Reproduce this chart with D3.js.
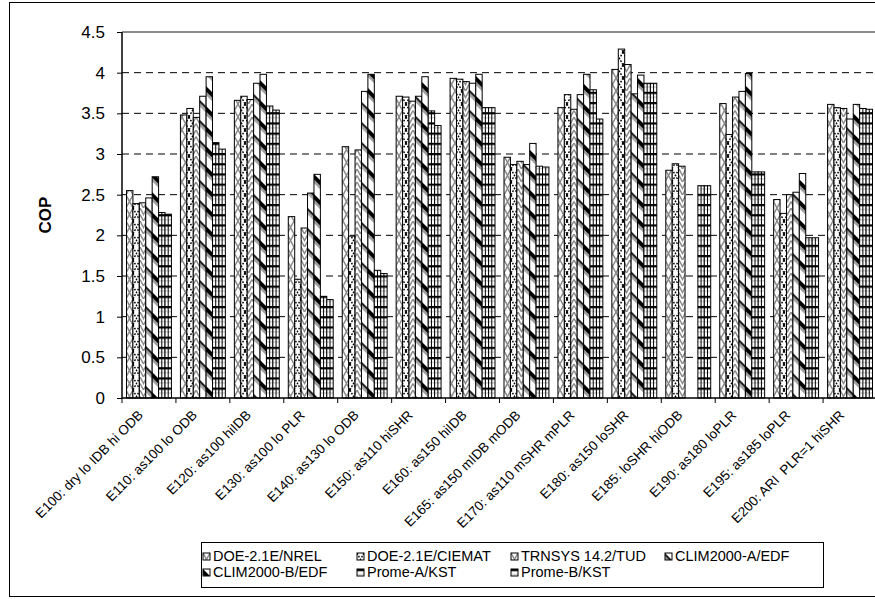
<!DOCTYPE html>
<html><head><meta charset="utf-8">
<script src="https://cdn.jsdelivr.net/npm/d3@7"></script>
<style>body{margin:0;background:#fff} text{font-family:Arial,"Liberation Sans",sans-serif}</style>
</head><body>
<svg id="c" width="875" height="599"></svg>
<script>
const categories = ["E100: dry lo IDB hi ODB","E110: as100 lo ODB","E120: as100 hiIDB","E130: as100 lo PLR","E140: as130 lo ODB","E150: as110 hiSHR","E160: as150 hiIDB","E165: as150 mIDB mODB","E170: as110 mSHR mPLR","E180: as150 loSHR","E185: loSHR hiODB","E190: as180 loPLR","E195: as185 loPLR","E200: ARI  PLR=1 hiSHR"];
const seriesNames = ["DOE-2.1E/NREL","DOE-2.1E/CIEMAT","TRNSYS 14.2/TUD","CLIM2000-A/EDF","CLIM2000-B/EDF","Prome-A/KST","Prome-B/KST"];
const doeNrel   = [2.55,3.48,3.66,2.23,3.09,3.71,3.93,2.96,3.57,4.04,2.80,3.62,2.44,3.61];
const doeCiemat = [2.39,3.56,3.71,1.46,1.99,3.70,3.92,2.87,3.73,4.29,2.88,3.24,2.27,3.57];
const trnsys    = [2.40,3.45,3.67,2.09,3.05,3.65,3.89,2.91,3.55,4.10,2.85,3.70,2.50,3.56];
const climA     = [2.46,3.71,3.87,2.52,3.77,3.71,3.87,2.87,3.73,3.74,null,3.77,2.53,3.43];
const climB     = [2.72,3.95,3.98,2.75,3.98,3.95,3.98,3.13,3.98,3.97,null,3.99,2.76,3.61];
const promeA    = [2.28,3.14,3.59,1.25,1.57,3.53,3.57,2.85,3.79,3.87,2.61,2.78,1.97,3.56];
const promeB    = [2.26,3.06,3.54,1.21,1.53,3.35,3.57,2.84,3.43,3.87,2.61,2.78,1.97,3.55];
const yTicks = [0,0.5,1,1.5,2,2.5,3,3.5,4,4.5];
const yTickLabels = ["0","0.5","1","1.5","2","2.5","3","3.5","4","4.5"];
const yTitle = "COP";

const seriesValues = [doeNrel,doeCiemat,trnsys,climA,climB,promeA,promeB];
const svg = d3.select("#c");
svg.append("rect").attr("width",875).attr("height",599).attr("fill","#fff");

const defs = svg.append("defs");
function pat(id,w,h,build,transform){
  const p = defs.append("pattern").attr("id",id).attr("patternUnits","userSpaceOnUse")
    .attr("width",w).attr("height",h);
  if(transform) p.attr("patternTransform",transform);
  p.append("rect").attr("width",w).attr("height",h).attr("fill","#fff");
  build(p);
}
pat("p0",7,13,p=>{p.append("path").attr("d","M0,0L7,13M7,0L0,13").attr("stroke","#8a8a8a").attr("stroke-width",1.5).attr("fill","none");});
pat("p1",7,13,p=>{p.append("path").attr("d","M0,0L7,13M7,0L0,13").attr("stroke","#000").attr("stroke-width",1.4).attr("stroke-dasharray","1.8,1.4").attr("fill","none");});
pat("p2",7,13,p=>{p.append("path").attr("d","M0,0L3.5,6.5L7,0M0,6.5L3.5,13L7,6.5").attr("stroke","#8a8a8a").attr("stroke-width",1.5).attr("fill","none");});
pat("p3",14.14,14.14,p=>{
  p.append("rect").attr("y",0).attr("width",14.14).attr("height",2.4).attr("fill","#222");
  p.append("rect").attr("y",2.4).attr("width",14.14).attr("height",2.4).attr("fill","#aaa");
},"rotate(45)");
pat("p4",14.14,14.14,p=>{
  p.append("rect").attr("y",0).attr("width",14.14).attr("height",3.8).attr("fill","#000");
  p.append("rect").attr("y",3.8).attr("width",14.14).attr("height",2.6).attr("fill","#999");
},"rotate(45)");
[5,6].forEach(k=>pat("p"+k,10,10.2,p=>{
  p.append("rect").attr("y",0).attr("width",10).attr("height",2.2).attr("fill","#000");
  p.append("rect").attr("y",5).attr("width",10).attr("height",1).attr("fill","#bbb");
}));

svg.append("rect").attr("x",9.5).attr("y",2.5).attr("width",900).attr("height",594)
  .attr("fill","none").attr("stroke","#000").attr("stroke-width",1);

const x = d3.scaleBand().domain(categories).range([122,877]).paddingInner(0.167).paddingOuter(0.0835);
const xs = d3.scaleBand().domain(seriesNames).range([0,x.bandwidth()]);
const y = d3.scaleLinear().domain([0,4.5]).range([398,32]);

svg.append("g").selectAll("line").data(yTicks.filter(v=>v>0 && v<4.5)).join("line")
  .attr("x1",122).attr("x2",877).attr("y1",d=>y(d)).attr("y2",d=>y(d))
  .attr("stroke","#000").attr("stroke-width",1).attr("stroke-dasharray","7,5");
svg.append("line").attr("x1",122).attr("x2",877).attr("y1",y(4.5)).attr("y2",y(4.5))
  .attr("stroke","#8c8c8c").attr("stroke-width",2);

const rows = [];
categories.forEach((c,i)=>seriesNames.forEach((s,k)=>{
  const v = seriesValues[k][i];
  if(v!=null) rows.push({c,s,k,v});
}));
const bars = svg.append("g");
bars.selectAll("rect").data(rows).join("rect")
  .attr("x",d=>x(d.c)+xs(d.s)).attr("width",xs.bandwidth())
  .attr("y",d=>y(d.v)).attr("height",d=>y(0)-y(d.v))
  .attr("fill",d=>`url(#p${d.k})`).attr("stroke","#000").attr("stroke-width",1);
bars.selectAll("line.mid").data(rows.filter(d=>d.k>=5)).join("line").attr("class","mid")
  .attr("x1",d=>x(d.c)+xs(d.s)+xs.bandwidth()/2).attr("x2",d=>x(d.c)+xs(d.s)+xs.bandwidth()/2)
  .attr("y1",d=>y(d.v)).attr("y2",y(0)).attr("stroke","#000").attr("stroke-width",1);

const yAxis = svg.append("g").attr("transform","translate(122,0)")
  .call(d3.axisLeft(y).tickValues(yTicks).tickFormat((d,i)=>yTickLabels[i]).tickSize(5).tickPadding(12));
yAxis.select(".domain").attr("stroke","#000").attr("stroke-width",1.5).attr("d","M0,32V398");
yAxis.selectAll("text").attr("font-size",17).attr("fill","#000").style("font-family","Arial");

const xAxis = svg.append("g").attr("transform","translate(0,398)");
xAxis.append("line").attr("x1",122).attr("x2",877).attr("stroke","#000").attr("stroke-width",1.5);
const bounds = categories.map(c=>x(c)-x.step()*x.paddingInner()/2).concat([877]);
xAxis.selectAll("line.t").data(bounds).join("line").attr("class","t")
  .attr("x1",d=>d).attr("x2",d=>d).attr("y1",0).attr("y2",5).attr("stroke","#000");
svg.append("g").selectAll("text").data(categories).join("text")
  .attr("transform",d=>`translate(${x(d)+x.bandwidth()/2-5},416) rotate(-45)`)
  .attr("text-anchor","end").attr("font-size",13.5).attr("fill","#000")
  .style("white-space","pre").text(d=>d);

svg.append("text").attr("transform","translate(51,215) rotate(-90)").attr("text-anchor","middle")
  .attr("font-size",17).attr("font-weight","bold").text(yTitle);

const lg = svg.append("g");
lg.append("rect").attr("x",201.5).attr("y",542.5).attr("width",622).attr("height",45)
  .attr("fill","#fff").attr("stroke","#000");
const colX = [203,357,511,665];
const li = lg.selectAll("g").data(seriesNames).join("g")
  .attr("transform",(d,i)=>`translate(${colX[i%4]},${i<4?553:569})`);
li.append("rect").attr("width",7).attr("height",7).attr("fill",(d,i)=>`url(#p${i})`).attr("stroke","#000");
li.append("text").attr("x",10).attr("y",8).attr("font-size",14.5).text(d=>d);
</script>
</body></html>
